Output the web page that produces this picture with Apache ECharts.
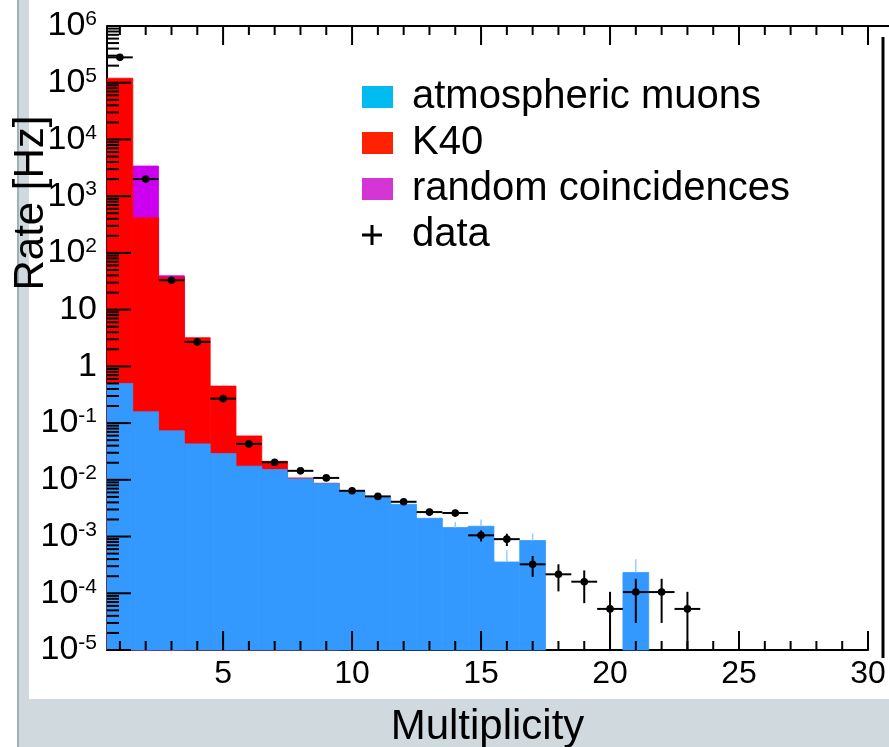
<!DOCTYPE html>
<html>
<head>
<meta charset="utf-8">
<title>Rate vs Multiplicity</title>
<script src="https://cdn.jsdelivr.net/npm/echarts@6/dist/echarts.min.js"></script>
<style>
    html, body { margin: 0; padding: 0; background: #fff; }
    #main { width: 889px; height: 747px; }
</style>
</head>
<body>
<div id="main"></div>
<script>
/************************    数据    ****************************/
var multiplicity = [1, 2, 3, 4, 5, 6, 7, 8, 9, 10, 11, 12, 13, 14, 15, 16, 17, 18, 19, 20, 21, 22, 23];

// atmospheric muons (bottom of the stack)
var muonRate = [0.5, 0.158, 0.073, 0.043, 0.029, 0.0174, 0.0152, 0.0104, 0.0086, 0.0063, 0.0049, 0.0037,
    0.0021, 0.00144, 0.00152, 0.000356, 0.00085, 0, 0, 0, 0.000232, 0, 0];
var muonErr = [0, 0, 0, 0, 0, 0, 0, 0, 0, 0, 0, 0,
    0, 0.00037, 0.00047, 0.00022, 0.00028, 0, 0, 0, 0.000167, 0, 0];

// K40
var k40Rate = [1.2e5, 415, 37, 3.16, 0.42, 0.042, 0.006, 0.0004, 0.0001, 0, 0, 0,
    0, 0, 0, 0, 0, 0, 0, 0, 0, 0, 0];

// random coincidences
var randomRate = [0, 2985, 2.5, 0, 0, 0, 0, 0, 0, 0, 0, 0,
    0, 0, 0, 0, 0, 0, 0, 0, 0, 0, 0];

// data
var dataRate = [2.8e5, 2000, 33, 2.7, 0.27, 0.043, 0.0204, 0.0144, 0.0108, 0.0064, 0.0051, 0.0041,
    0.0027, 0.0026, 0.00105, 0.0009, 0.000324, 0.000216, 0.00016, 5.3e-5, 1.05e-4, 1.05e-4, 5.3e-5];
var dataErr = [0, 0, 0, 0, 0, 0, 0, 0, 0, 0, 0, 0,
    0.00038, 0.00037, 0.00023, 0.00022, 0.00013, 0.000108, 0.000093, 5.3e-5, 7.5e-5, 7.5e-5, 5.3e-5];

var seriesNames = ['atmospheric muons', 'K40', 'random coincidences', 'data'];
var xTickLabels = [5, 10, 15, 20, 25, 30];
// decades shown on the rate axis (exponents of 10)
var yDecades = [-5, -4, -3, -2, -1, 0, 1, 2, 3, 4, 5, 6];

var xMin = 0.5, xMax = 30;
var yMin = 1e-5, yMax = 1e6;

/************************    堆叠    ****************************/
var k40Top = muonRate.map(function (v, i) { return v + k40Rate[i]; });
var randomTop = k40Top.map(function (v, i) { return v + randomRate[i]; });

// [multiplicity, stacked top, own contribution]
function stackItems(tops, own) {
    return multiplicity.map(function (m, i) { return [m, tops[i], own[i]]; });
}

/************************    刻度    ****************************/
var tickItems = [];
for (var t = 1; t <= xMax; t++) {
    var major = t % 5 === 0 ? 1 : 0;
    tickItems.push([t, yMax, 0, major]);
    tickItems.push([t, yMin, 1, major]);
}
yDecades.forEach(function (e) {
    tickItems.push([xMin, Math.pow(10, e), 2, 1]);
    if (e < 6) {
        for (var k = 2; k <= 9; k++) {
            tickItems.push([xMin, k * Math.pow(10, e), 2, 0]);
        }
    }
});

/************************    绘制函数    ****************************/
function barRender(color) {
    return function (params, api) {
        var x = api.value(0), y = api.value(1), own = api.value(2);
        if (!(y > 0) || !(own > 0)) return;
        var p0 = api.coord([x - 0.5, yMin]);
        var p1 = api.coord([x + 0.5, y]);
        return {
            type: 'rect',
            shape: { x: p0[0], y: p1[1], width: p1[0] - p0[0], height: p0[1] - p1[1] },
            style: { fill: color, stroke: color, lineWidth: 0.8 }
        };
    };
}

function muonErrRender(params, api) {
    var x = api.value(0), y = api.value(1), err = api.value(2);
    if (!(y > 0) || !(err > 0)) return;
    var p0 = api.coord([x, y]);
    var p1 = api.coord([x, y + err]);
    return {
        type: 'line',
        shape: { x1: p0[0], y1: p0[1], x2: p1[0], y2: p1[1] },
        style: { stroke: '#99ccff', lineWidth: 1.5 }
    };
}

function dataRender(params, api) {
    var x = api.value(0), y = api.value(1), err = api.value(2);
    var lo = y - err > yMin ? y - err : yMin;
    var pc = api.coord([x, y]);
    var pl = api.coord([x - 0.5, y]);
    var pr = api.coord([x + 0.5, y]);
    var pt = api.coord([x, y + err]);
    var pb = api.coord([x, lo]);
    return {
        type: 'group',
        children: [
            { type: 'line', shape: { x1: pl[0], y1: pl[1], x2: pr[0], y2: pr[1] }, style: { stroke: '#000', lineWidth: 2 } },
            { type: 'line', shape: { x1: pt[0], y1: pt[1], x2: pb[0], y2: pb[1] }, style: { stroke: '#000', lineWidth: 2 } },
            { type: 'circle', shape: { cx: pc[0], cy: pc[1], r: 3.8 }, style: { fill: '#000' } }
        ]
    };
}

function tickRender(params, api) {
    var p = api.coord([api.value(0), api.value(1)]);
    var dir = api.value(2), major = api.value(3);
    var len = dir === 2 ? (major ? 24 : 12) : (major ? 19 : 9);
    var x2 = p[0], y2 = p[1];
    if (dir === 0) y2 += len;
    else if (dir === 1) y2 -= len;
    else x2 += len;
    return {
        type: 'line',
        shape: { x1: p[0], y1: p[1], x2: x2, y2: y2 },
        style: { stroke: '#000', lineWidth: 2 }
    };
}

function yLabel(n) {
    if (yDecades.indexOf(n) < 0) return '';
    if (n === 0) return '{b|1}';
    if (n === 1) return '{b|10}';
    return '{b|10}{s|' + n + '}';
}

/************************    图表    ****************************/
var font = 'Liberation Sans';
var chart = echarts.init(document.getElementById('main'));
chart.setOption({
    animation: false,
    backgroundColor: 'transparent',
    grid: { left: 107, right: 21, top: 26, bottom: 97, containLabel: false, outerBoundsMode: 'none' },
    legend: {
        orient: 'vertical',
        left: 357,
        top: 69,
        itemWidth: 31,
        itemHeight: 22,
        itemGap: 0,
        selectedMode: false,
        textStyle: { fontFamily: font, fontSize: 40, color: '#000', lineHeight: 46, padding: [0, 0, 0, 14] },
        data: [
            { name: seriesNames[0], icon: 'rect', itemStyle: { color: '#00bbf0' } },
            { name: seriesNames[1], icon: 'rect', itemStyle: { color: '#ff2200' } },
            { name: seriesNames[2], icon: 'rect', itemStyle: { color: '#d535d5' } },
            { name: seriesNames[3], icon: 'path://M0,0M31,22M8.5,1H11.5V9.5H20V12.5H11.5V21H8.5V12.5H0V9.5H8.5Z', itemStyle: { color: '#000' } }
        ]
    },
    xAxis: {
        type: 'value',
        min: xMin,
        max: xMax,
        name: 'Multiplicity',
        nameLocation: 'middle',
        nameGap: 56,
        nameTextStyle: { fontFamily: font, fontSize: 42, color: '#000' },
        axisLine: { show: true, onZero: false, lineStyle: { color: '#000', width: 2 } },
        axisTick: { show: false },
        splitLine: { show: false },
        axisLabel: {
            fontFamily: font, fontSize: 32, color: '#000', margin: 8,
            formatter: function (v) { return xTickLabels.indexOf(v) >= 0 ? String(v) : ''; }
        }
    },
    yAxis: [{
        // rate axis used by every mark
        type: 'log',
        logBase: 10,
        min: yMin,
        max: yMax,
        name: 'Rate [Hz]',
        nameLocation: 'middle',
        nameGap: 55,
        nameTextStyle: { fontFamily: font, fontSize: 42, color: '#000', padding: [0, 0, 0, 270] },
        axisLine: { show: true, onZero: false, lineStyle: { color: '#000', width: 2 } },
        axisTick: { show: false },
        splitLine: { show: false },
        axisLabel: { show: false }
    }, {
        // same range as exponent, only carries the decade labels
        type: 'value',
        position: 'left',
        min: yDecades[0],
        max: yDecades[yDecades.length - 1],
        interval: 1,
        axisLine: { show: false, onZero: false },
        axisTick: { show: false },
        splitLine: { show: false },
        axisLabel: {
            margin: 10,
            fontFamily: font,
            fontSize: 34,
            color: '#000',
            formatter: yLabel,
            rich: {
                b: { fontFamily: font, fontSize: 34, lineHeight: 34, color: '#000', verticalAlign: 'bottom' },
                s: { fontFamily: font, fontSize: 21, lineHeight: 21, color: '#000', verticalAlign: 'top', padding: [0, 0, 17, 0] }
            }
        }
    }],
    series: [
        { type: 'custom', name: seriesNames[2], renderItem: barRender('#cc00ee'), data: stackItems(randomTop, randomRate), clip: false },
        { type: 'custom', name: seriesNames[1], renderItem: barRender('#ff0000'), data: stackItems(k40Top, k40Rate), clip: false },
        { type: 'custom', name: seriesNames[0], renderItem: barRender('#3399ff'), data: stackItems(muonRate, muonRate), clip: false },
        {
            type: 'custom', name: seriesNames[0], renderItem: muonErrRender, clip: false,
            data: multiplicity.map(function (m, i) { return [m, muonRate[i], muonErr[i]]; })
        },
        {
            type: 'custom', name: seriesNames[3], renderItem: dataRender, clip: false,
            data: multiplicity.map(function (m, i) { return [m, dataRate[i], dataErr[i]]; })
        },
        { type: 'custom', renderItem: tickRender, data: tickItems, clip: false, silent: true }
    ],
    graphic: [
        { type: 'rect', shape: { x: 17, y: 0, width: 12, height: 747 }, style: { fill: '#cfd9de' }, z: -10, silent: true },
        { type: 'rect', shape: { x: 17, y: 699, width: 872, height: 48 }, style: { fill: '#cfd9de' }, z: -10, silent: true },
        { type: 'rect', shape: { x: 17, y: 0, width: 2, height: 747 }, style: { fill: '#9fb1b5' }, z: -10, silent: true },
        { type: 'line', shape: { x1: 107, y1: 26, x2: 889, y2: 26 }, style: { stroke: '#000', lineWidth: 2 }, z: 100, silent: true },
        { type: 'rect', shape: { x: 881.5, y: 37, width: 3, height: 621 }, style: { fill: '#000' }, z: 100, silent: true }
    ]
});
</script>
</body>
</html>
